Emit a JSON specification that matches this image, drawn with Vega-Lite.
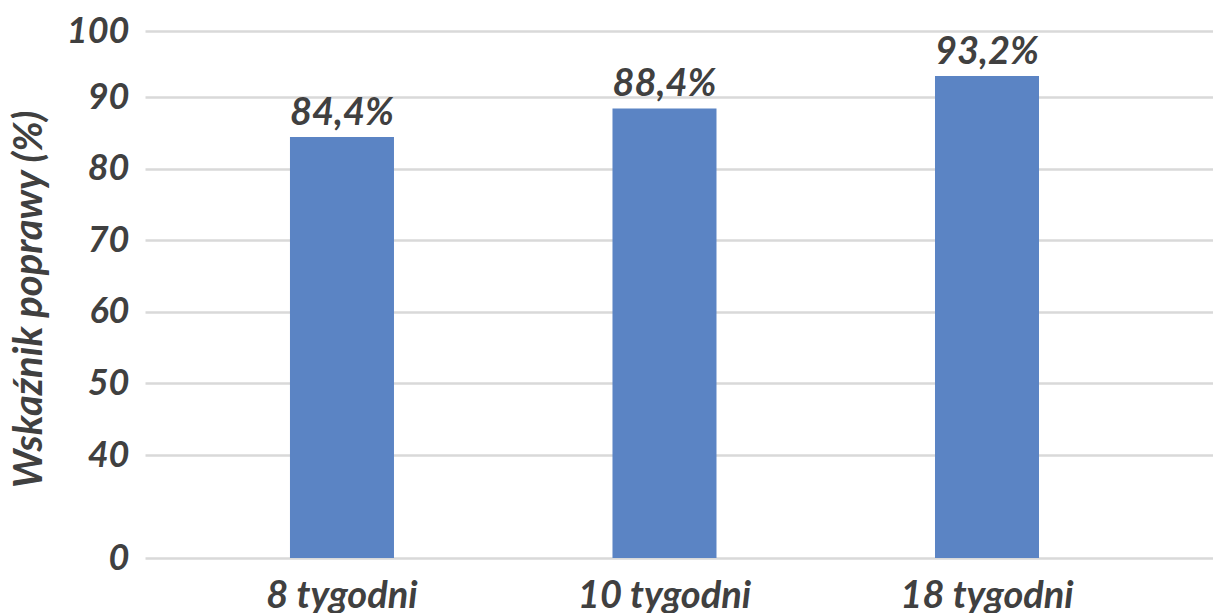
{
  "$schema": "https://vega.github.io/schema/vega-lite/v6.json",
  "autosize": "none",
  "padding": {"left": 145, "top": 31, "right": 0, "bottom": 55},
  "width": 1068,
  "height": 527,
  "background": "white",
  "config": {
    "view": {"stroke": null},
    "font": "Lato",
    "axis": {"labelFont": "Lato", "titleFont": "Lato"}
  },
  "data": {
    "values": [
      {"okres": "8 tygodni", "wskaznik": 84.4, "etykieta": "84,4%"},
      {"okres": "10 tygodni", "wskaznik": 88.4, "etykieta": "88,4%"},
      {"okres": "18 tygodni", "wskaznik": 93.2, "etykieta": "93,2%"}
    ]
  },
  "encoding": {
    "x": {
      "field": "okres",
      "type": "nominal",
      "sort": null,
      "scale": {"paddingInner": 0.6775, "paddingOuter": 0.4945, "align": 0.4545, "round": false},
      "axis": {
        "title": null,
        "labelAngle": 0,
        "labelFontSize": 38,
        "labelFontWeight": "bold",
        "labelFontStyle": "italic",
        "labelColor": "#404040",
        "labelPadding": 19,
        "ticks": false,
        "domain": false,
        "grid": false
      }
    },
    "y": {
      "field": "wskaznik",
      "type": "quantitative",
      "scale": {"domain": [0, 40, 90, 100], "range": [527, 424, 66, 0], "clamp": true, "nice": false, "zero": false},
      "axis": {
        "title": "Wskaźnik poprawy (%)",
        "values": [0, 40, 50, 60, 70, 80, 90, 100],
        "labelFontSize": 36,
        "labelFontWeight": "bold",
        "labelFontStyle": "italic",
        "labelColor": "#404040",
        "labelPadding": 16,
        "ticks": false,
        "domain": false,
        "grid": true,
        "gridColor": "#D9D9D9",
        "gridWidth": 2.5,
        "titleFontSize": 40,
        "titleFontWeight": "bold",
        "titleFontStyle": "italic",
        "titleColor": "#404040",
        "titleBaseline": "middle",
        "titleX": -116,
        "titleY": 268
      }
    }
  },
  "layer": [
    {"mark": {"type": "bar", "color": "#5B84C4"}},
    {
      "mark": {"type": "text", "baseline": "alphabetic", "dy": -12, "fontSize": 38, "fontWeight": "bold", "fontStyle": "italic", "color": "#404040", "font": "Lato"},
      "encoding": {"text": {"field": "etykieta"}}
    }
  ]
}
